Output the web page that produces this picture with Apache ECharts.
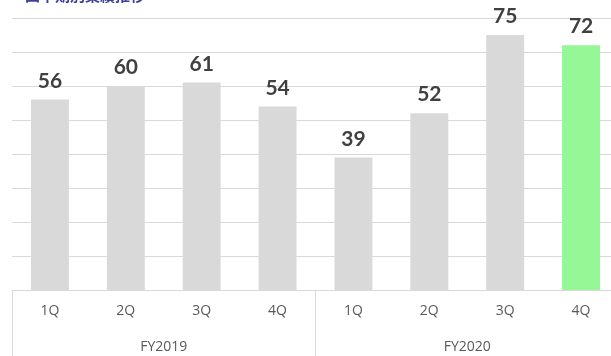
<!DOCTYPE html>
<html>
<head>
<meta charset="utf-8">
<script src="https://cdn.jsdelivr.net/npm/echarts@6/dist/echarts.min.js"></script>
<style>html,body{margin:0;padding:0;background:#fff}#c{width:611px;height:356px}</style>
</head>
<body>
<div id="c"></div>
<script>
const quarters = ['1Q','2Q','3Q','4Q','1Q','2Q','3Q','4Q'];
const years = ['FY2019','FY2020'];
const values = [56, 60, 61, 54, 39, 52, 75, 72];
const titleText = '四半期別業績推移';

const chart = echarts.init(document.getElementById('c'), null, {renderer:'canvas'});
chart.setOption({
  animation:false,
  title:{text:titleText, left:20, top:-17, textStyle:{color:'#3b3f9e', fontSize:15, fontWeight:'bold', fontFamily:'Noto Sans CJK JP'}},
  grid:{left:12, width:607, top:18, bottom:66, containLabel:false, outerBoundsMode:'none'},
  xAxis:[{
    type:'category', data:quarters, position:'bottom',
    axisLine:{show:true, lineStyle:{color:'#d9d9d9', width:1}},
    axisTick:{show:false},
    axisLabel:{color:'#595959', fontSize:14, fontFamily:'Open Sans', margin:14}
  },{
    type:'category', data:years, position:'bottom', gridIndex:0,
    axisLine:{show:false},
    axisTick:{show:true, length:66, alignWithLabel:false, lineStyle:{color:'#d9d9d9', width:1}},
    axisLabel:{color:'#595959', fontSize:14, fontFamily:'Open Sans', margin:50}
  }],
  yAxis:{type:'value', min:0, max:80, interval:10,
    axisLabel:{show:false}, axisLine:{show:false}, axisTick:{show:false},
    splitLine:{lineStyle:{color:'#d9d9d9', width:1}}},
  series:[{
    type:'bar', xAxisIndex:0, barWidth:'50%',
    data: values.map((v,i)=>({value:v, itemStyle:{color: i===values.length-1 ? '#95f795' : '#d9d9d9'}})),
    label:{show:true, position:'top', distance:8, color:'#404040', fontSize:21, fontWeight:'bold', fontFamily:'Lato'}
  }]
});
</script>
</body>
</html>
